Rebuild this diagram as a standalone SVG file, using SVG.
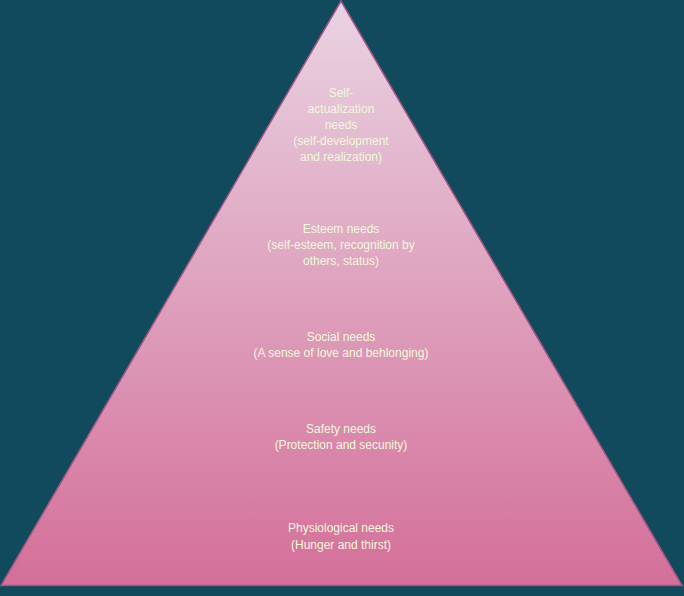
<svg xmlns="http://www.w3.org/2000/svg" width="684" height="596" viewBox="0 0 684 596">
<style>
text{font-family:"Liberation Sans",Arial,sans-serif;font-size:12px;fill:#f0f8dc;text-anchor:middle}
</style>
<defs>
<linearGradient id="g" x1="0" y1="0" x2="0" y2="1">
<stop offset="0" stop-color="#e9d3e2"/>
<stop offset="1" stop-color="#d46f99"/>
</linearGradient>
</defs>
<rect width="684" height="596" fill="#114a5d"/>
<g id="pyramid">
<polygon points="341,1 682,585.5 1,585.5" fill="url(#g)" stroke="#a35583" stroke-width="1.5"/>
</g>
<g id="self">
<text x="341" y="97">Self-</text>
<text x="341" y="113">actualization</text>
<text x="341" y="129">needs</text>
<text x="341" y="145">(self-development</text>
<text x="341" y="161">and realization)</text>
</g>
<g id="esteem">
<text x="341" y="233">Esteem needs</text>
<text x="341" y="249">(self-esteem, recognition by</text>
<text x="341" y="265">others, status)</text>
</g>
<g id="social">
<text x="341" y="341">Social needs</text>
<text x="341" y="357">(A sense of love and behlonging)</text>
</g>
<g id="safety">
<text x="341" y="433">Safety needs</text>
<text x="341" y="449">(Protection and secunity)</text>
</g>
<g id="physio">
<text x="341" y="532">Physiological needs</text>
<text x="341" y="549">(Hunger and thirst)</text>
</g>
<g id="connectors"/>
</svg>
